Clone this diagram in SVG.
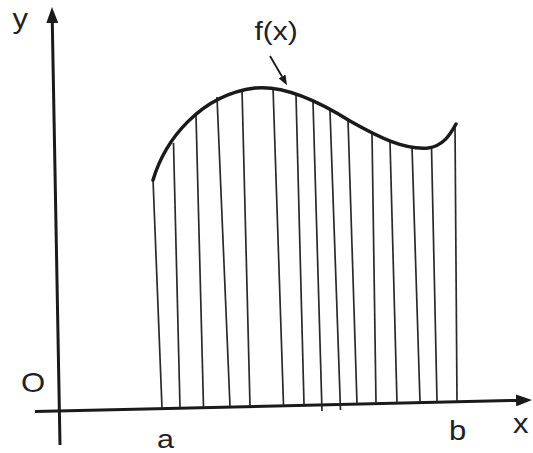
<svg xmlns="http://www.w3.org/2000/svg" width="533" height="453" viewBox="0 0 533 453">
<style>
.axis{fill:none;stroke:#1a1a1a;stroke-width:3}
.curve{fill:none;stroke:#1a1a1a;stroke-width:3.5;stroke-linecap:round}
.hatch{stroke:#2a2a2a;stroke-width:1.7;fill:none}
.lbl{font-family:"Liberation Sans",Arial,sans-serif;font-size:27px;fill:#222}
</style>
<defs>
<marker id="bigArrow" viewBox="0 0 16 12" refX="0" refY="6" markerWidth="16" markerHeight="12" orient="auto" markerUnits="userSpaceOnUse">
<path d="M0,0 L16,6 L0,12 z" fill="#1a1a1a"/>
</marker>
<marker id="smallArrow" viewBox="0 0 10 8" refX="0" refY="4" markerWidth="10" markerHeight="8" orient="auto" markerUnits="userSpaceOnUse">
<path d="M0,0 L10,4 L0,8 z" fill="#1a1a1a"/>
</marker>
</defs>
<g id="connectors">
<line class="axis" x1="60" y1="445" x2="52.3" y2="23" marker-end="url(#bigArrow)"/>
<line class="axis" x1="35" y1="411.5" x2="516" y2="400.4" marker-end="url(#bigArrow)"/>
<line x1="270" y1="56" x2="282" y2="76.5" stroke="#1a1a1a" stroke-width="1.8" marker-end="url(#smallArrow)"/>
</g>
<g id="hatching">
<line class="hatch" x1="153" y1="179" x2="162" y2="408"/>
<line class="hatch" x1="173.5" y1="143" x2="180" y2="407.5"/>
<line class="hatch" x1="196" y1="115" x2="203.5" y2="407"/>
<line class="hatch" x1="217" y1="97" x2="230" y2="406.5"/>
<line class="hatch" x1="242" y1="89" x2="250" y2="406"/>
<line class="hatch" x1="273" y1="87" x2="283.5" y2="405"/>
<line class="hatch" x1="296" y1="95" x2="304" y2="404.5"/>
<line class="hatch" x1="313" y1="102" x2="322" y2="411"/>
<line class="hatch" x1="330" y1="111" x2="340.5" y2="410"/>
<line class="hatch" x1="348" y1="120" x2="357" y2="403.5"/>
<line class="hatch" x1="372" y1="133" x2="376" y2="403"/>
<line class="hatch" x1="390" y1="142" x2="397" y2="402.5"/>
<line class="hatch" x1="412" y1="147" x2="420" y2="402"/>
<line class="hatch" x1="431.5" y1="147" x2="437" y2="401.5"/>
<line class="hatch" x1="455" y1="125" x2="457" y2="401"/>
</g>
<g id="curve">
<path class="curve" d="M153,180 C165,140 200,95 255,88 C285,85 320,102 350,121 C380,138 405,150 428,148 C443,146 450,135 456,124"/>
</g>
<g id="labels">
<text class="lbl" transform="translate(12.5,28) scale(1.15,1)">y</text>
<text class="lbl" transform="translate(21,391.5) scale(1.15,1)">O</text>
<text class="lbl" transform="translate(157,447.5) scale(1.22,1)" style="font-size:25px">a</text>
<text class="lbl" transform="translate(449,439.5) scale(1.15,1)">b</text>
<text class="lbl" transform="translate(513,433.3) scale(1.15,1)">x</text>
<text class="lbl" transform="translate(254.5,40) scale(1.2,1)" style="font-size:25px">f(x)</text>
</g>
</svg>
